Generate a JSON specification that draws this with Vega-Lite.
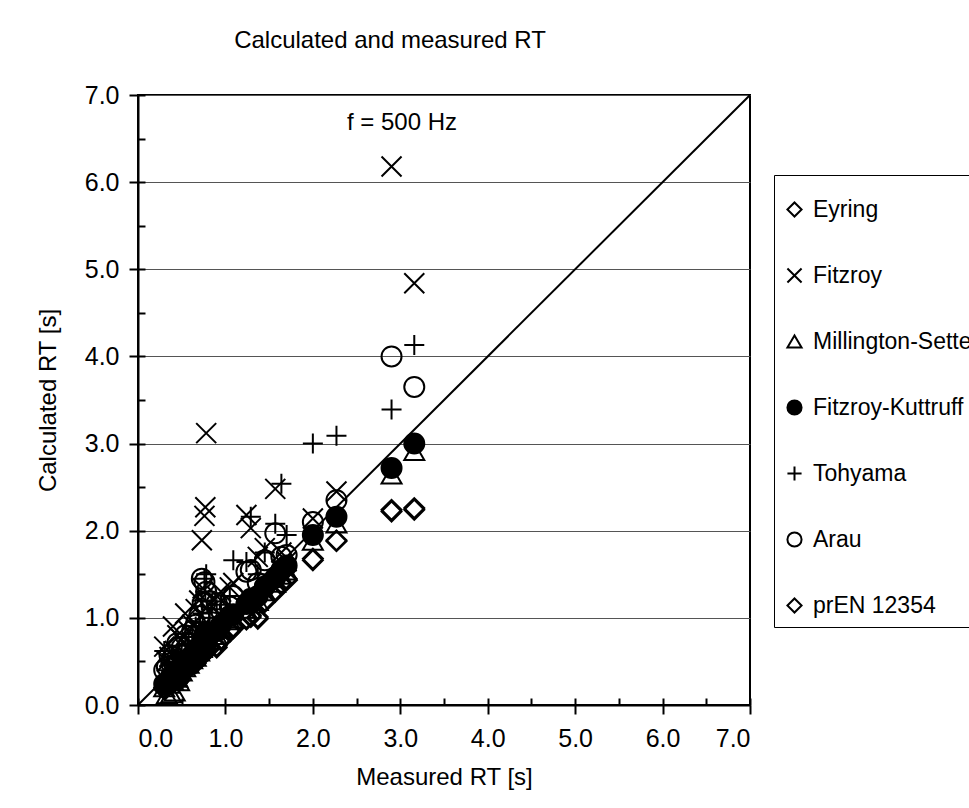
{
  "$schema": "https://vega.github.io/schema/vega-lite/v6.json",
  "width": 612,
  "height": 610,
  "autosize": {"type": "none"},
  "padding": {"left": 138, "top": 95, "right": 219, "bottom": 103},
  "background": "white",
  "title": {"text": "Calculated and measured RT", "anchor": "middle", "frame": "group", "dx": -54, "offset": 11, "baseline": "alphabetic", "fontSize": 24, "font": "Liberation Sans", "fontWeight": "normal", "color": "black"},
  "config": {
    "font": "Liberation Sans",
    "view": {"stroke": "black", "strokeWidth": 2},
    "axis": {"labelFont": "Liberation Sans", "labelFontSize": 25, "labelColor": "black", "titleFont": "Liberation Sans", "titleFontSize": 24, "titleFontWeight": "normal", "titleColor": "black", "domainColor": "black", "domainWidth": 2, "tickColor": "black", "tickWidth": 2},
    "legend": {"orient": "none", "legendX": 636, "legendY": 80, "padding": 9, "strokeColor": "black", "labelFont": "Liberation Sans", "labelFontSize": 23, "labelColor": "black", "labelLimit": 400, "labelOffset": 7, "symbolSize": 200, "symbolStrokeWidth": 2, "rowPadding": 42, "titleFontSize": 12, "titlePadding": 2}
  },
  "datasets": {
    "diag": [{"measured": 0, "calculated": 0}, {"measured": 7, "calculated": 7}],
    "rt": [
      {"method": "Eyring", "measured": 0.30, "calculated": 0.20},
      {"method": "Eyring", "measured": 0.33, "calculated": 0.22},
      {"method": "Eyring", "measured": 0.36, "calculated": 0.25},
      {"method": "Eyring", "measured": 0.38, "calculated": 0.26},
      {"method": "Eyring", "measured": 0.40, "calculated": 0.30},
      {"method": "Eyring", "measured": 0.42, "calculated": 0.32},
      {"method": "Eyring", "measured": 0.45, "calculated": 0.33},
      {"method": "Eyring", "measured": 0.47, "calculated": 0.30},
      {"method": "Eyring", "measured": 0.50, "calculated": 0.38},
      {"method": "Eyring", "measured": 0.54, "calculated": 0.42},
      {"method": "Eyring", "measured": 0.58, "calculated": 0.45},
      {"method": "Eyring", "measured": 0.62, "calculated": 0.48},
      {"method": "Eyring", "measured": 0.66, "calculated": 0.50},
      {"method": "Eyring", "measured": 0.70, "calculated": 0.56},
      {"method": "Eyring", "measured": 0.73, "calculated": 0.58},
      {"method": "Eyring", "measured": 0.74, "calculated": 0.60},
      {"method": "Eyring", "measured": 0.76, "calculated": 0.63},
      {"method": "Eyring", "measured": 0.77, "calculated": 0.65},
      {"method": "Eyring", "measured": 0.78, "calculated": 0.70},
      {"method": "Eyring", "measured": 0.82, "calculated": 0.67},
      {"method": "Eyring", "measured": 0.90, "calculated": 0.68},
      {"method": "Eyring", "measured": 0.95, "calculated": 0.76},
      {"method": "Eyring", "measured": 1.05, "calculated": 0.86},
      {"method": "Eyring", "measured": 1.09, "calculated": 0.90},
      {"method": "Eyring", "measured": 1.24, "calculated": 1.00},
      {"method": "Eyring", "measured": 1.29, "calculated": 1.03},
      {"method": "Eyring", "measured": 1.37, "calculated": 1.01},
      {"method": "Eyring", "measured": 1.45, "calculated": 1.20},
      {"method": "Eyring", "measured": 1.57, "calculated": 1.32},
      {"method": "Eyring", "measured": 1.64, "calculated": 1.40},
      {"method": "Eyring", "measured": 1.70, "calculated": 1.45},
      {"method": "Eyring", "measured": 2.00, "calculated": 1.68},
      {"method": "Eyring", "measured": 2.27, "calculated": 1.89},
      {"method": "Eyring", "measured": 2.90, "calculated": 2.24},
      {"method": "Eyring", "measured": 3.16, "calculated": 2.26},
      {"method": "Fitzroy", "measured": 0.30, "calculated": 0.67},
      {"method": "Fitzroy", "measured": 0.33, "calculated": 0.50},
      {"method": "Fitzroy", "measured": 0.36, "calculated": 0.55},
      {"method": "Fitzroy", "measured": 0.38, "calculated": 0.48},
      {"method": "Fitzroy", "measured": 0.40, "calculated": 0.90},
      {"method": "Fitzroy", "measured": 0.42, "calculated": 0.62},
      {"method": "Fitzroy", "measured": 0.45, "calculated": 0.80},
      {"method": "Fitzroy", "measured": 0.47, "calculated": 0.58},
      {"method": "Fitzroy", "measured": 0.50, "calculated": 0.75},
      {"method": "Fitzroy", "measured": 0.54, "calculated": 1.05},
      {"method": "Fitzroy", "measured": 0.58, "calculated": 0.85},
      {"method": "Fitzroy", "measured": 0.62, "calculated": 0.92},
      {"method": "Fitzroy", "measured": 0.66, "calculated": 1.10},
      {"method": "Fitzroy", "measured": 0.70, "calculated": 1.20},
      {"method": "Fitzroy", "measured": 0.73, "calculated": 1.89},
      {"method": "Fitzroy", "measured": 0.74, "calculated": 1.34},
      {"method": "Fitzroy", "measured": 0.76, "calculated": 2.17},
      {"method": "Fitzroy", "measured": 0.77, "calculated": 2.27},
      {"method": "Fitzroy", "measured": 0.78, "calculated": 3.12},
      {"method": "Fitzroy", "measured": 0.82, "calculated": 1.15},
      {"method": "Fitzroy", "measured": 0.90, "calculated": 1.25},
      {"method": "Fitzroy", "measured": 0.95, "calculated": 1.30},
      {"method": "Fitzroy", "measured": 1.05, "calculated": 1.35},
      {"method": "Fitzroy", "measured": 1.09, "calculated": 1.40},
      {"method": "Fitzroy", "measured": 1.24, "calculated": 2.18},
      {"method": "Fitzroy", "measured": 1.29, "calculated": 2.03},
      {"method": "Fitzroy", "measured": 1.37, "calculated": 1.70},
      {"method": "Fitzroy", "measured": 1.45, "calculated": 1.80},
      {"method": "Fitzroy", "measured": 1.57, "calculated": 2.48},
      {"method": "Fitzroy", "measured": 1.64, "calculated": 1.75},
      {"method": "Fitzroy", "measured": 1.70, "calculated": 1.65},
      {"method": "Fitzroy", "measured": 2.00, "calculated": 2.14},
      {"method": "Fitzroy", "measured": 2.27, "calculated": 2.45},
      {"method": "Fitzroy", "measured": 2.90, "calculated": 6.18},
      {"method": "Fitzroy", "measured": 3.16, "calculated": 4.84},
      {"method": "Millington-Sette", "measured": 0.30, "calculated": 0.20},
      {"method": "Millington-Sette", "measured": 0.33, "calculated": 0.12},
      {"method": "Millington-Sette", "measured": 0.36, "calculated": 0.24},
      {"method": "Millington-Sette", "measured": 0.38, "calculated": 0.13},
      {"method": "Millington-Sette", "measured": 0.40, "calculated": 0.28},
      {"method": "Millington-Sette", "measured": 0.42, "calculated": 0.15},
      {"method": "Millington-Sette", "measured": 0.45, "calculated": 0.31},
      {"method": "Millington-Sette", "measured": 0.47, "calculated": 0.27},
      {"method": "Millington-Sette", "measured": 0.50, "calculated": 0.38},
      {"method": "Millington-Sette", "measured": 0.54, "calculated": 0.43},
      {"method": "Millington-Sette", "measured": 0.58, "calculated": 0.47},
      {"method": "Millington-Sette", "measured": 0.62, "calculated": 0.52},
      {"method": "Millington-Sette", "measured": 0.66, "calculated": 0.55},
      {"method": "Millington-Sette", "measured": 0.70, "calculated": 0.61},
      {"method": "Millington-Sette", "measured": 0.73, "calculated": 0.65},
      {"method": "Millington-Sette", "measured": 0.74, "calculated": 0.67},
      {"method": "Millington-Sette", "measured": 0.76, "calculated": 0.71},
      {"method": "Millington-Sette", "measured": 0.77, "calculated": 0.73},
      {"method": "Millington-Sette", "measured": 0.78, "calculated": 0.79},
      {"method": "Millington-Sette", "measured": 0.82, "calculated": 0.75},
      {"method": "Millington-Sette", "measured": 0.90, "calculated": 0.80},
      {"method": "Millington-Sette", "measured": 0.95, "calculated": 0.87},
      {"method": "Millington-Sette", "measured": 1.05, "calculated": 0.97},
      {"method": "Millington-Sette", "measured": 1.09, "calculated": 0.99},
      {"method": "Millington-Sette", "measured": 1.24, "calculated": 1.10},
      {"method": "Millington-Sette", "measured": 1.29, "calculated": 1.16},
      {"method": "Millington-Sette", "measured": 1.37, "calculated": 1.19},
      {"method": "Millington-Sette", "measured": 1.45, "calculated": 1.30},
      {"method": "Millington-Sette", "measured": 1.57, "calculated": 1.40},
      {"method": "Millington-Sette", "measured": 1.64, "calculated": 1.49},
      {"method": "Millington-Sette", "measured": 1.70, "calculated": 1.54},
      {"method": "Millington-Sette", "measured": 2.00, "calculated": 1.88},
      {"method": "Millington-Sette", "measured": 2.27, "calculated": 2.08},
      {"method": "Millington-Sette", "measured": 2.90, "calculated": 2.64},
      {"method": "Millington-Sette", "measured": 3.16, "calculated": 2.91},
      {"method": "Fitzroy-Kuttruff", "measured": 0.30, "calculated": 0.24},
      {"method": "Fitzroy-Kuttruff", "measured": 0.33, "calculated": 0.25},
      {"method": "Fitzroy-Kuttruff", "measured": 0.36, "calculated": 0.28},
      {"method": "Fitzroy-Kuttruff", "measured": 0.38, "calculated": 0.30},
      {"method": "Fitzroy-Kuttruff", "measured": 0.40, "calculated": 0.33},
      {"method": "Fitzroy-Kuttruff", "measured": 0.42, "calculated": 0.34},
      {"method": "Fitzroy-Kuttruff", "measured": 0.45, "calculated": 0.36},
      {"method": "Fitzroy-Kuttruff", "measured": 0.47, "calculated": 0.32},
      {"method": "Fitzroy-Kuttruff", "measured": 0.50, "calculated": 0.43},
      {"method": "Fitzroy-Kuttruff", "measured": 0.54, "calculated": 0.48},
      {"method": "Fitzroy-Kuttruff", "measured": 0.58, "calculated": 0.52},
      {"method": "Fitzroy-Kuttruff", "measured": 0.62, "calculated": 0.57},
      {"method": "Fitzroy-Kuttruff", "measured": 0.66, "calculated": 0.60},
      {"method": "Fitzroy-Kuttruff", "measured": 0.70, "calculated": 0.66},
      {"method": "Fitzroy-Kuttruff", "measured": 0.73, "calculated": 0.70},
      {"method": "Fitzroy-Kuttruff", "measured": 0.74, "calculated": 0.72},
      {"method": "Fitzroy-Kuttruff", "measured": 0.76, "calculated": 0.76},
      {"method": "Fitzroy-Kuttruff", "measured": 0.77, "calculated": 0.78},
      {"method": "Fitzroy-Kuttruff", "measured": 0.78, "calculated": 0.84},
      {"method": "Fitzroy-Kuttruff", "measured": 0.82, "calculated": 0.80},
      {"method": "Fitzroy-Kuttruff", "measured": 0.90, "calculated": 0.85},
      {"method": "Fitzroy-Kuttruff", "measured": 0.95, "calculated": 0.92},
      {"method": "Fitzroy-Kuttruff", "measured": 1.05, "calculated": 1.02},
      {"method": "Fitzroy-Kuttruff", "measured": 1.09, "calculated": 1.04},
      {"method": "Fitzroy-Kuttruff", "measured": 1.24, "calculated": 1.16},
      {"method": "Fitzroy-Kuttruff", "measured": 1.29, "calculated": 1.22},
      {"method": "Fitzroy-Kuttruff", "measured": 1.37, "calculated": 1.25},
      {"method": "Fitzroy-Kuttruff", "measured": 1.45, "calculated": 1.36},
      {"method": "Fitzroy-Kuttruff", "measured": 1.57, "calculated": 1.46},
      {"method": "Fitzroy-Kuttruff", "measured": 1.64, "calculated": 1.55},
      {"method": "Fitzroy-Kuttruff", "measured": 1.70, "calculated": 1.60},
      {"method": "Fitzroy-Kuttruff", "measured": 2.00, "calculated": 1.95},
      {"method": "Fitzroy-Kuttruff", "measured": 2.27, "calculated": 2.16},
      {"method": "Fitzroy-Kuttruff", "measured": 2.90, "calculated": 2.72},
      {"method": "Fitzroy-Kuttruff", "measured": 3.16, "calculated": 3.00},
      {"method": "Tohyama", "measured": 0.30, "calculated": 0.62},
      {"method": "Tohyama", "measured": 0.33, "calculated": 0.40},
      {"method": "Tohyama", "measured": 0.36, "calculated": 0.45},
      {"method": "Tohyama", "measured": 0.38, "calculated": 0.38},
      {"method": "Tohyama", "measured": 0.40, "calculated": 0.55},
      {"method": "Tohyama", "measured": 0.42, "calculated": 0.48},
      {"method": "Tohyama", "measured": 0.45, "calculated": 0.60},
      {"method": "Tohyama", "measured": 0.47, "calculated": 0.42},
      {"method": "Tohyama", "measured": 0.50, "calculated": 0.68},
      {"method": "Tohyama", "measured": 0.54, "calculated": 0.78},
      {"method": "Tohyama", "measured": 0.58, "calculated": 0.70},
      {"method": "Tohyama", "measured": 0.62, "calculated": 0.82},
      {"method": "Tohyama", "measured": 0.66, "calculated": 0.90},
      {"method": "Tohyama", "measured": 0.70, "calculated": 0.95},
      {"method": "Tohyama", "measured": 0.73, "calculated": 1.20},
      {"method": "Tohyama", "measured": 0.74, "calculated": 1.05},
      {"method": "Tohyama", "measured": 0.76, "calculated": 1.45},
      {"method": "Tohyama", "measured": 0.77, "calculated": 1.30},
      {"method": "Tohyama", "measured": 0.78, "calculated": 1.50},
      {"method": "Tohyama", "measured": 0.82, "calculated": 1.00},
      {"method": "Tohyama", "measured": 0.90, "calculated": 1.10},
      {"method": "Tohyama", "measured": 0.95, "calculated": 1.15},
      {"method": "Tohyama", "measured": 1.05, "calculated": 1.25},
      {"method": "Tohyama", "measured": 1.09, "calculated": 1.66},
      {"method": "Tohyama", "measured": 1.24, "calculated": 1.64},
      {"method": "Tohyama", "measured": 1.29, "calculated": 2.16},
      {"method": "Tohyama", "measured": 1.37, "calculated": 1.50},
      {"method": "Tohyama", "measured": 1.45, "calculated": 1.75},
      {"method": "Tohyama", "measured": 1.57, "calculated": 2.08},
      {"method": "Tohyama", "measured": 1.64, "calculated": 2.54},
      {"method": "Tohyama", "measured": 1.70, "calculated": 1.95},
      {"method": "Tohyama", "measured": 2.00, "calculated": 3.00},
      {"method": "Tohyama", "measured": 2.27, "calculated": 3.09},
      {"method": "Tohyama", "measured": 2.90, "calculated": 3.39},
      {"method": "Tohyama", "measured": 3.16, "calculated": 4.13},
      {"method": "Arau", "measured": 0.30, "calculated": 0.40},
      {"method": "Arau", "measured": 0.33, "calculated": 0.44},
      {"method": "Arau", "measured": 0.36, "calculated": 0.57},
      {"method": "Arau", "measured": 0.38, "calculated": 0.48},
      {"method": "Arau", "measured": 0.40, "calculated": 0.55},
      {"method": "Arau", "measured": 0.42, "calculated": 0.45},
      {"method": "Arau", "measured": 0.45, "calculated": 0.71},
      {"method": "Arau", "measured": 0.47, "calculated": 0.50},
      {"method": "Arau", "measured": 0.50, "calculated": 0.66},
      {"method": "Arau", "measured": 0.54, "calculated": 0.80},
      {"method": "Arau", "measured": 0.58, "calculated": 0.70},
      {"method": "Arau", "measured": 0.62, "calculated": 0.85},
      {"method": "Arau", "measured": 0.66, "calculated": 0.92},
      {"method": "Arau", "measured": 0.70, "calculated": 1.02},
      {"method": "Arau", "measured": 0.73, "calculated": 1.45},
      {"method": "Arau", "measured": 0.74, "calculated": 1.17},
      {"method": "Arau", "measured": 0.76, "calculated": 1.41},
      {"method": "Arau", "measured": 0.77, "calculated": 1.17},
      {"method": "Arau", "measured": 0.78, "calculated": 1.30},
      {"method": "Arau", "measured": 0.82, "calculated": 1.00},
      {"method": "Arau", "measured": 0.90, "calculated": 1.17},
      {"method": "Arau", "measured": 0.95, "calculated": 1.08},
      {"method": "Arau", "measured": 1.05, "calculated": 1.13},
      {"method": "Arau", "measured": 1.09, "calculated": 1.25},
      {"method": "Arau", "measured": 1.24, "calculated": 1.53},
      {"method": "Arau", "measured": 1.29, "calculated": 1.55},
      {"method": "Arau", "measured": 1.37, "calculated": 1.40},
      {"method": "Arau", "measured": 1.45, "calculated": 1.66},
      {"method": "Arau", "measured": 1.57, "calculated": 1.97},
      {"method": "Arau", "measured": 1.64, "calculated": 1.70},
      {"method": "Arau", "measured": 1.70, "calculated": 1.72},
      {"method": "Arau", "measured": 2.00, "calculated": 2.10},
      {"method": "Arau", "measured": 2.27, "calculated": 2.35},
      {"method": "Arau", "measured": 2.90, "calculated": 4.00},
      {"method": "Arau", "measured": 3.16, "calculated": 3.65},
      {"method": "prEN 12354", "measured": 0.30, "calculated": 0.18},
      {"method": "prEN 12354", "measured": 0.33, "calculated": 0.20},
      {"method": "prEN 12354", "measured": 0.36, "calculated": 0.23},
      {"method": "prEN 12354", "measured": 0.38, "calculated": 0.24},
      {"method": "prEN 12354", "measured": 0.40, "calculated": 0.28},
      {"method": "prEN 12354", "measured": 0.42, "calculated": 0.30},
      {"method": "prEN 12354", "measured": 0.45, "calculated": 0.31},
      {"method": "prEN 12354", "measured": 0.47, "calculated": 0.28},
      {"method": "prEN 12354", "measured": 0.50, "calculated": 0.36},
      {"method": "prEN 12354", "measured": 0.54, "calculated": 0.40},
      {"method": "prEN 12354", "measured": 0.58, "calculated": 0.43},
      {"method": "prEN 12354", "measured": 0.62, "calculated": 0.46},
      {"method": "prEN 12354", "measured": 0.66, "calculated": 0.48},
      {"method": "prEN 12354", "measured": 0.70, "calculated": 0.54},
      {"method": "prEN 12354", "measured": 0.73, "calculated": 0.56},
      {"method": "prEN 12354", "measured": 0.74, "calculated": 0.58},
      {"method": "prEN 12354", "measured": 0.76, "calculated": 0.61},
      {"method": "prEN 12354", "measured": 0.77, "calculated": 0.63},
      {"method": "prEN 12354", "measured": 0.78, "calculated": 0.68},
      {"method": "prEN 12354", "measured": 0.82, "calculated": 0.65},
      {"method": "prEN 12354", "measured": 0.90, "calculated": 0.66},
      {"method": "prEN 12354", "measured": 0.95, "calculated": 0.74},
      {"method": "prEN 12354", "measured": 1.05, "calculated": 0.84},
      {"method": "prEN 12354", "measured": 1.09, "calculated": 0.88},
      {"method": "prEN 12354", "measured": 1.24, "calculated": 0.98},
      {"method": "prEN 12354", "measured": 1.29, "calculated": 1.01},
      {"method": "prEN 12354", "measured": 1.37, "calculated": 0.99},
      {"method": "prEN 12354", "measured": 1.45, "calculated": 1.18},
      {"method": "prEN 12354", "measured": 1.57, "calculated": 1.30},
      {"method": "prEN 12354", "measured": 1.64, "calculated": 1.38},
      {"method": "prEN 12354", "measured": 1.70, "calculated": 1.43},
      {"method": "prEN 12354", "measured": 2.00, "calculated": 1.66},
      {"method": "prEN 12354", "measured": 2.27, "calculated": 1.88},
      {"method": "prEN 12354", "measured": 2.90, "calculated": 2.22},
      {"method": "prEN 12354", "measured": 3.16, "calculated": 2.24}
    ]
  },
  "layer": [
    {
      "data": {"name": "diag"},
      "mark": {"type": "line", "color": "black", "strokeWidth": 2, "clip": true},
      "encoding": {
        "x": {"field": "measured", "type": "quantitative", "scale": {"domain": [0, 7], "nice": false, "zero": false},
          "axis": {"orient": "bottom", "values": [0, 0.5, 1, 1.5, 2, 2.5, 3, 3.5, 4, 4.5, 5, 5.5, 6, 6.5, 7], "tickSize": -7, "labels": false, "domain": false, "grid": false, "title": null}},
        "y": {"field": "calculated", "type": "quantitative", "scale": {"domain": [0, 7], "nice": false, "zero": false},
          "axis": {"orient": "left", "values": [0, 0.5, 1, 1.5, 2, 2.5, 3, 3.5, 4, 4.5, 5, 5.5, 6, 6.5, 7], "tickSize": -7, "labels": false, "domain": false, "grid": false, "title": null}}
      }
    },
    {
      "data": {"name": "rt"},
      "mark": {"type": "point", "strokeWidth": 2, "size": 400, "opacity": 1},
      "encoding": {
        "x": {"field": "measured", "type": "quantitative",
          "axis": {"orient": "bottom", "values": [0, 1, 2, 3, 4, 5, 6, 7], "format": ".1f", "tickSize": 9, "labelPadding": 12, "title": "Measured RT [s]", "titlePadding": 14, "grid": false}},
        "y": {"field": "calculated", "type": "quantitative",
          "axis": {"orient": "left", "values": [0, 1, 2, 3, 4, 5, 6, 7], "format": ".1f", "tickSize": 9, "labelPadding": 10, "title": "Calculated RT [s]", "titlePadding": 24, "grid": true, "gridColor": "#555555", "gridWidth": 1}},
        "shape": {"field": "method", "type": "nominal",
          "scale": {"domain": ["Eyring", "Fitzroy", "Millington-Sette", "Fitzroy-Kuttruff", "Tohyama", "Arau", "prEN 12354"],
            "range": ["diamond", "M-1,-1L1,1M-1,1L1,-1", "triangle-up", "circle", "M-1,0L1,0M0,-1L0,1", "circle", "diamond"]},
          "legend": {"title": " "}},
        "stroke": {"field": "method", "type": "nominal",
          "scale": {"domain": ["Eyring", "Fitzroy", "Millington-Sette", "Fitzroy-Kuttruff", "Tohyama", "Arau", "prEN 12354"],
            "range": ["black", "black", "black", "black", "black", "black", "black"]},
          "legend": {"title": " "}},
        "fill": {"field": "method", "type": "nominal",
          "scale": {"domain": ["Eyring", "Fitzroy", "Millington-Sette", "Fitzroy-Kuttruff", "Tohyama", "Arau", "prEN 12354"],
            "range": ["transparent", "transparent", "transparent", "black", "transparent", "transparent", "transparent"]},
          "legend": {"title": " "}}
      }
    },
    {
      "data": {"values": [{"label": "f = 500 Hz"}]},
      "mark": {"type": "text", "fontSize": 24, "font": "Liberation Sans", "color": "black", "align": "center", "baseline": "middle"},
      "encoding": {
        "x": {"datum": 3.02, "type": "quantitative", "axis": null},
        "y": {"datum": 6.68, "type": "quantitative", "axis": null},
        "text": {"field": "label", "type": "nominal"}
      }
    }
  ],
  "resolve": {"axis": {"x": "independent", "y": "independent"}}
}
